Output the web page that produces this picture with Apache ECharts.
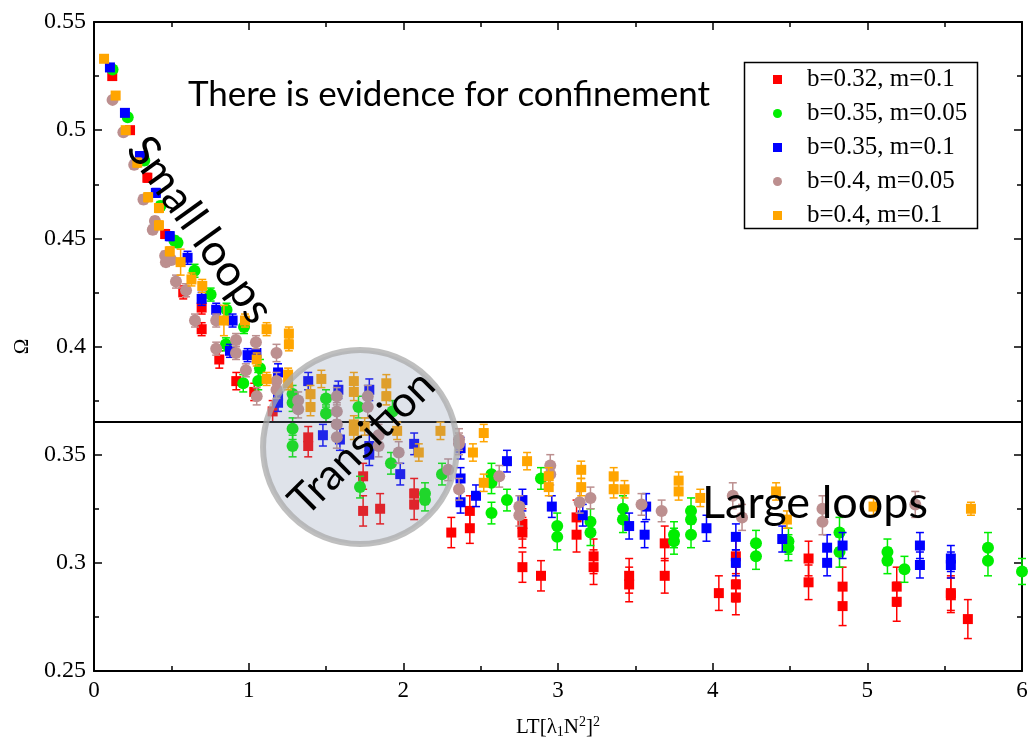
<!DOCTYPE html>
<html lang="en">
<head>
    <meta charset="UTF-8">
    <title>Omega vs LT</title>
    <script src="https://cdn.jsdelivr.net/npm/echarts@6/dist/echarts.min.js"></script>
    <style>
        html, body { margin: 0; padding: 0; background: #fff; }
        #main { width: 1034px; height: 747px; }
    </style>
</head>
<body>
<div id="main"></div>
<script>
    // series names and colours (xmgrace defaults)
    var seriesNames = ["b=0.32, m=0.1", "b=0.35, m=0.05", "b=0.35, m=0.1", "b=0.4, m=0.05", "b=0.4, m=0.1"];
    var seriesColors = ["#ff0000", "#00ee00", "#0000ff", "#bc8f8f", "#ffa500"];
    var seriesSymbols = ["rect", "circle", "rect", "circle", "rect"];

    // [x, omega, error]
    var redPts = [
        [0.118, 0.525, 0.001], [0.233, 0.500, 0.001], [0.345, 0.478, 0.002], [0.46, 0.452, 0.002],
        [0.577, 0.425, 0.003], [0.696, 0.418, 0.003], [0.696, 0.408, 0.003], [0.81, 0.394, 0.004],
        [0.92, 0.384, 0.004], [1.036, 0.379, 0.004], [1.155, 0.370, 0.005], [1.385, 0.358, 0.005],
        [1.385, 0.354, 0.005], [1.74, 0.340, 0.006], [1.74, 0.324, 0.007], [1.85, 0.325, 0.007],
        [2.07, 0.332, 0.007], [2.07, 0.327, 0.007], [2.31, 0.314, 0.007], [2.43, 0.324, 0.007],
        [2.43, 0.316, 0.007], [2.77, 0.318, 0.007], [2.77, 0.314, 0.007], [2.77, 0.298, 0.007],
        [2.89, 0.294, 0.007], [3.12, 0.321, 0.008], [3.12, 0.313, 0.008], [3.23, 0.303, 0.008],
        [3.23, 0.298, 0.008], [3.46, 0.294, 0.008], [3.46, 0.290, 0.008], [3.69, 0.309, 0.008],
        [3.69, 0.294, 0.008], [4.04, 0.286, 0.008], [4.15, 0.303, 0.008], [4.15, 0.290, 0.008],
        [4.15, 0.284, 0.008], [4.62, 0.302, 0.008], [4.62, 0.291, 0.008], [4.84, 0.289, 0.009],
        [4.84, 0.280, 0.009], [5.19, 0.289, 0.009], [5.19, 0.282, 0.009], [5.54, 0.286, 0.008],
        [5.54, 0.285, 0.008], [5.65, 0.274, 0.009]
    ];
    var greenPts = [
        [0.12, 0.528, 0.001], [0.218, 0.506, 0.001], [0.325, 0.486, 0.002], [0.43, 0.465, 0.002],
        [0.52, 0.449, 0.002], [0.54, 0.448, 0.002], [0.65, 0.435, 0.003], [0.754, 0.424, 0.003],
        [0.857, 0.417, 0.003], [0.97, 0.409, 0.003], [0.853, 0.401, 0.003], [1.073, 0.390, 0.004],
        [0.965, 0.383, 0.004], [1.062, 0.384, 0.004], [1.284, 0.378, 0.004], [1.284, 0.374, 0.004],
        [1.50, 0.376, 0.004], [1.50, 0.369, 0.004], [1.71, 0.372, 0.005], [1.93, 0.370, 0.005],
        [1.284, 0.362, 0.005], [1.284, 0.354, 0.005], [1.92, 0.346, 0.005], [1.72, 0.335, 0.005],
        [2.14, 0.332, 0.005], [2.14, 0.329, 0.005], [2.25, 0.341, 0.005], [2.57, 0.341, 0.005],
        [2.57, 0.337, 0.005], [2.57, 0.323, 0.005], [2.67, 0.329, 0.005], [2.89, 0.339, 0.005],
        [2.995, 0.317, 0.006], [2.995, 0.312, 0.006], [3.21, 0.319, 0.006], [3.21, 0.314, 0.006],
        [3.42, 0.325, 0.006], [3.42, 0.320, 0.006], [3.75, 0.313, 0.006], [3.75, 0.310, 0.006],
        [3.86, 0.324, 0.006], [3.86, 0.320, 0.006], [3.86, 0.313, 0.006], [4.28, 0.309, 0.006],
        [4.28, 0.303, 0.006], [4.49, 0.310, 0.006], [4.49, 0.307, 0.006], [4.82, 0.314, 0.007],
        [4.82, 0.305, 0.007], [5.13, 0.305, 0.006], [5.13, 0.301, 0.006], [5.24, 0.297, 0.006],
        [5.78, 0.307, 0.007], [5.78, 0.301, 0.007], [6.0, 0.296, 0.006]
    ];
    var bluePts = [
        [0.103, 0.529, 0.001], [0.20, 0.508, 0.001], [0.297, 0.488, 0.002], [0.40, 0.471, 0.002],
        [0.49, 0.451, 0.002], [0.605, 0.441, 0.003], [0.696, 0.422, 0.003], [0.79, 0.417, 0.003],
        [0.896, 0.412, 0.003], [0.879, 0.398, 0.003], [0.993, 0.396, 0.003], [1.05, 0.397, 0.004],
        [1.19, 0.388, 0.004], [1.19, 0.377, 0.004], [1.19, 0.374, 0.004], [1.385, 0.384, 0.004],
        [1.58, 0.380, 0.004], [1.78, 0.380, 0.005], [1.48, 0.359, 0.005], [1.59, 0.357, 0.005],
        [1.78, 0.354, 0.005], [1.78, 0.350, 0.005], [2.07, 0.355, 0.005], [1.98, 0.341, 0.005],
        [2.37, 0.353, 0.005], [2.67, 0.347, 0.005], [2.37, 0.339, 0.005], [2.47, 0.331, 0.005],
        [2.77, 0.329, 0.005], [2.37, 0.328, 0.005], [2.96, 0.326, 0.005], [3.16, 0.322, 0.005],
        [3.46, 0.317, 0.006], [3.57, 0.326, 0.006], [3.56, 0.313, 0.006], [3.96, 0.316, 0.006],
        [4.15, 0.312, 0.006], [4.15, 0.300, 0.006], [4.45, 0.311, 0.006], [4.74, 0.307, 0.006],
        [4.74, 0.300, 0.006], [4.84, 0.308, 0.006], [5.34, 0.308, 0.006], [5.34, 0.299, 0.006],
        [5.54, 0.302, 0.006], [5.54, 0.299, 0.006]
    ];
    var rosyPts = [
        [0.12, 0.514, 0.001], [0.19, 0.499, 0.001], [0.26, 0.484, 0.002], [0.32, 0.468, 0.002],
        [0.394, 0.458, 0.002], [0.38, 0.454, 0.002], [0.46, 0.442, 0.002], [0.465, 0.439, 0.002],
        [0.50, 0.440, 0.002], [0.53, 0.430, 0.003], [0.595, 0.426, 0.003], [0.653, 0.412, 0.003],
        [0.79, 0.412, 0.003], [0.918, 0.403, 0.003], [1.047, 0.402, 0.003], [0.79, 0.399, 0.003],
        [0.918, 0.397, 0.003], [0.982, 0.389, 0.003], [1.052, 0.377, 0.004], [1.18, 0.397, 0.004],
        [1.18, 0.384, 0.004], [1.18, 0.380, 0.004], [1.32, 0.375, 0.004], [1.32, 0.371, 0.004],
        [1.57, 0.377, 0.004], [1.57, 0.370, 0.004], [1.77, 0.377, 0.005], [1.77, 0.372, 0.005],
        [1.57, 0.364, 0.005], [1.57, 0.358, 0.005], [1.84, 0.359, 0.005], [1.84, 0.354, 0.005],
        [1.97, 0.351, 0.005], [2.36, 0.357, 0.005], [2.36, 0.355, 0.005], [2.29, 0.343, 0.005],
        [2.36, 0.334, 0.005], [2.62, 0.340, 0.005], [2.75, 0.326, 0.005], [2.75, 0.322, 0.005],
        [2.95, 0.345, 0.005], [2.95, 0.341, 0.005], [3.14, 0.328, 0.005], [3.21, 0.330, 0.005],
        [3.54, 0.327, 0.005], [3.67, 0.324, 0.005], [4.13, 0.331, 0.006], [4.19, 0.321, 0.006],
        [4.71, 0.325, 0.006], [4.71, 0.319, 0.006], [5.31, 0.327, 0.006]
    ];
    var orangePts = [
        [0.065, 0.533, 0.001], [0.14, 0.516, 0.001], [0.205, 0.500, 0.001], [0.28, 0.485, 0.002],
        [0.35, 0.469, 0.002], [0.42, 0.464, 0.002], [0.42, 0.456, 0.002], [0.49, 0.444, 0.002],
        [0.56, 0.439, 0.006], [0.63, 0.431, 0.003], [0.70, 0.428, 0.003], [0.84, 0.412, 0.007],
        [0.976, 0.412, 0.003], [1.052, 0.394, 0.003], [1.116, 0.408, 0.003], [1.116, 0.385, 0.003],
        [1.26, 0.406, 0.003], [1.26, 0.401, 0.003], [1.255, 0.387, 0.003], [1.255, 0.383, 0.003],
        [1.47, 0.385, 0.004], [1.40, 0.378, 0.004], [1.40, 0.372, 0.004], [1.68, 0.384, 0.004],
        [1.68, 0.379, 0.004], [1.89, 0.383, 0.004], [1.89, 0.377, 0.004], [1.68, 0.364, 0.004],
        [1.68, 0.361, 0.004], [1.75, 0.363, 0.004], [1.96, 0.361, 0.004], [2.10, 0.351, 0.004],
        [2.24, 0.361, 0.004], [2.52, 0.360, 0.004], [2.45, 0.351, 0.004], [2.80, 0.347, 0.004],
        [2.52, 0.337, 0.004], [2.94, 0.340, 0.004], [2.94, 0.335, 0.004], [3.15, 0.343, 0.004],
        [3.15, 0.335, 0.004], [3.36, 0.340, 0.004], [3.36, 0.334, 0.004], [3.43, 0.334, 0.004],
        [3.78, 0.338, 0.004], [3.78, 0.333, 0.004], [3.92, 0.330, 0.004], [4.41, 0.333, 0.004],
        [4.48, 0.320, 0.004], [5.04, 0.326, 0.004], [5.67, 0.325, 0.003]
    ];
    var allPts = [redPts, greenPts, bluePts, rosyPts, orangePts];

    var thresholdOmega = 0.365;
    var transitionCenter = [1.72, 0.3535];

    var serifFont = "'Liberation Serif', 'DejaVu Serif', serif";
    var sansFont = "Lato, 'Open Sans', sans-serif";

    var chart = echarts.init(document.getElementById("main"));

    function errorBars(color) {
        return function (params, api) {
            var x = api.value(0), y = api.value(1), e = api.value(2);
            var top = api.coord([x, y + e]);
            var bot = api.coord([x, y - e]);
            var hw = 4;
            var st = { stroke: color, lineWidth: 1.5 };
            return {
                type: "group",
                children: [
                    { type: "line", shape: { x1: top[0], y1: top[1], x2: bot[0], y2: bot[1] }, style: st },
                    { type: "line", shape: { x1: top[0] - hw, y1: top[1], x2: top[0] + hw, y2: top[1] }, style: st },
                    { type: "line", shape: { x1: bot[0] - hw, y1: bot[1], x2: bot[0] + hw, y2: bot[1] }, style: st }
                ]
            };
        };
    }

    var series = [];
    allPts.forEach(function (pts, i) {
        series.push({
            name: seriesNames[i] + " err",
            type: "custom",
            renderItem: errorBars(seriesColors[i]),
            data: pts,
            z: 2 + i * 2,
            silent: true
        });
        series.push({
            name: seriesNames[i],
            type: "scatter",
            symbol: seriesSymbols[i],
            symbolSize: seriesSymbols[i] === "rect" ? 10 : 12,
            itemStyle: { color: seriesColors[i], opacity: 1 },
            data: pts.map(function (p) { return [p[0], p[1]]; }),
            z: 3 + i * 2
        });
    });
    // threshold line
    series.push({
        type: "line",
        data: [],
        z: 15,
        markLine: {
            silent: true,
            symbol: "none",
            precision: 4,
            label: { show: false },
            lineStyle: { color: "#000", width: 2, type: "solid" },
            data: [{ yAxis: thresholdOmega }]
        }
    });

    var axisCommon = {
        axisLine: { show: true, onZero: false, lineStyle: { color: "#000", width: 2 } },
        axisTick: { show: true, inside: true, length: 8, lineStyle: { color: "#000", width: 1.5 } },
        minorTick: { show: true, splitNumber: 2, length: 5, lineStyle: { color: "#000", width: 1.5 } },
        splitLine: { show: false }
    };

    var option = {
        backgroundColor: "#fff",
        animation: false,
        grid: { left: 94, right: 12, top: 22, bottom: 76 },
        legend: {
            data: seriesNames.map(function (n, i) { return { name: n, icon: seriesSymbols[i] === "rect" ? "rect" : "circle" }; }),
            orient: "vertical",
            left: 768,
            top: 62,
            itemWidth: 9,
            itemHeight: 9,
            itemGap: 9,
            selectedMode: false,
            textStyle: { fontFamily: serifFont, fontSize: 25, lineHeight: 25, color: "#000", padding: [0, 0, 0, 20] }
        },
        xAxis: [
            Object.assign({
                type: "value", min: 0, max: 6, interval: 1,
                name: "LT[λ{sub|1}N{sup|2}]{sup|2}",
                nameLocation: "middle", nameGap: 44,
                nameTextStyle: {
                    fontFamily: serifFont, fontSize: 21, color: "#000",
                    rich: {
                        sub: { fontFamily: serifFont, fontSize: 14, verticalAlign: "bottom", padding: [10, 0, 0, 0] },
                        sup: { fontFamily: serifFont, fontSize: 14, verticalAlign: "top", padding: [0, 0, 10, 0] }
                    }
                },
                axisLabel: { fontFamily: serifFont, fontSize: 23, color: "#000", margin: 8 }
            }, axisCommon),
            Object.assign({
                type: "value", min: 0, max: 6, interval: 1, position: "top",
                axisLabel: { show: false }
            }, axisCommon)
        ],
        yAxis: [
            Object.assign({
                type: "value", min: 0.25, max: 0.55, interval: 0.05,
                name: "Ω", nameLocation: "middle", nameGap: 61,
                nameTextStyle: { fontFamily: serifFont, fontSize: 21, color: "#000" },
                axisLabel: {
                    fontFamily: serifFont, fontSize: 24, color: "#000", margin: 8,
                    formatter: function (v) { return String(parseFloat(v.toFixed(2))); }
                }
            }, axisCommon),
            Object.assign({
                type: "value", min: 0.25, max: 0.55, interval: 0.05, position: "right",
                axisLabel: { show: false }
            }, axisCommon)
        ],
        series: series
    };
    chart.setOption(option);

    var c = chart.convertToPixel({ gridIndex: 0 }, transitionCenter);
    chart.setOption({
        graphic: [
            {
                type: "rect", left: 742, top: 60, z: 20,
                shape: { width: 233, height: 166 },
                style: { fill: "none", stroke: "#000", lineWidth: 1.5 }
            },
            {
                type: "circle", x: c[0], y: c[1], z: 30,
                shape: { r: 97 },
                style: { fill: "rgba(128,144,172,0.25)", stroke: "rgba(170,170,170,0.75)", lineWidth: 6 }
            },
            {
                type: "text", x: 449, y: 95, z: 40,
                style: { text: "There is evidence for confinement", font: "35px " + sansFont, fill: "#000", align: "center", verticalAlign: "middle" }
            },
            {
                type: "text", x: 200, y: 230, z: 40, rotation: -0.95,
                style: { text: "Small loops", font: "44px " + sansFont, fill: "#000", align: "center", verticalAlign: "middle" }
            },
            {
                type: "text", x: 362, y: 443, z: 40, rotation: 0.78,
                style: { text: "Transition", font: "43px " + sansFont, fill: "#000", align: "center", verticalAlign: "middle" }
            },
            {
                type: "text", x: 815, y: 503, z: 40,
                style: { text: "Large loops", font: "45px " + sansFont, fill: "#000", align: "center", verticalAlign: "middle" }
            }
        ]
    });
</script>
</body>
</html>
